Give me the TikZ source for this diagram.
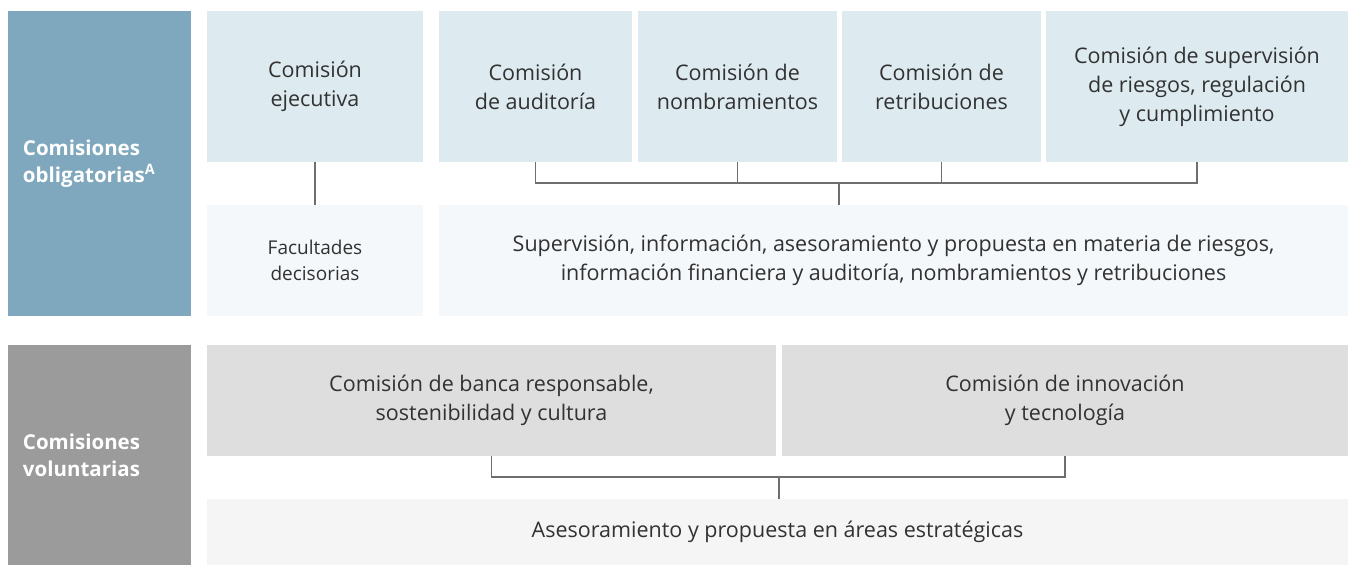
\documentclass[tikz,border=0pt]{standalone}
\usepackage{fontspec}
\setmainfont{Open Sans}
\usetikzlibrary{positioning}
\definecolor{santObligBlue}{RGB}{127, 168, 190}
\definecolor{santLightBlue}{RGB}{221, 235, 241}
\definecolor{santPaleBlue}{RGB}{244, 248, 251}
\definecolor{santVolGrey}{RGB}{155, 155, 155}
\definecolor{santLightGrey}{RGB}{222, 222, 222}
\definecolor{santPaleGrey}{RGB}{245, 245, 245}
\definecolor{santText}{RGB}{50, 50, 50}
\definecolor{santLine}{RGB}{110, 110, 110}

\begin{document}
\begin{tikzpicture}[
  x=1pt, y=-1pt,
  every node/.style={inner sep=0pt, outer sep=0pt},
  panel/.style={
    anchor=north west,
    minimum width=183pt,
    inner xsep=15pt,
    text width=153pt,
    align=left,
    text=white,
    font=\fontsize{20.5}{27}\selectfont\bfseries
  },
  box/.style={
    minimum height=151pt,
    align=center,
    text=santText,
    font=\fontsize{21.5}{29}\selectfont
  },
  infobox/.style={
    anchor=north west,
    align=center,
    text=santText,
    font=\fontsize{21.5}{29}\selectfont
  },
  link/.style={draw=santLine, line width=1.2pt}
]
  \useasboundingbox (0,0) rectangle (1348,565);

  % mandatory committees
  \node[panel, fill=santObligBlue, minimum height=305pt] (oblig) at (8,11)
    {Comisiones\\obligatorias\textsuperscript{A}};
  \node[box, fill=santLightBlue, minimum width=216pt, anchor=north west] (ejec) at (207,11)
    {Comisión\\ejecutiva};
  \node[box, fill=santLightBlue, minimum width=193pt, right=16pt of ejec] (aud)
    {Comisión\\de auditoría};
  \node[box, fill=santLightBlue, minimum width=199pt, right=6pt of aud] (nom)
    {Comisión de\\nombramientos};
  \node[box, fill=santLightBlue, minimum width=199pt, right=5pt of nom] (ret)
    {Comisión de\\retribuciones};
  \node[box, fill=santLightBlue, minimum width=302pt, right=5pt of ret] (sup)
    {Comisión de supervisión\\de riesgos, regulación\\y cumplimiento};
  \node[infobox, fill=santPaleBlue, minimum width=216pt, minimum height=111pt,
        font=\fontsize{19}{26}\selectfont] (fac) at (207,205)
    {Facultades\\decisorias};
  \node[infobox, fill=santPaleBlue, minimum width=909pt, minimum height=111pt] (superv) at (439,205)
    {Supervisión, información, asesoramiento y propuesta en materia de riesgos,\\
     información financiera y auditoría, nombramientos y retribuciones};

  \coordinate (obar) at (839,183);
  \draw[link] (ejec) -- (fac);
  \draw[link] (aud.south) |- (sup.south |- obar) -- (sup.south);
  \draw[link] (nom.south) -- (nom.south |- obar);
  \draw[link] (ret.south) -- (ret.south |- obar);
  \draw[link] (obar) -- (obar |- superv.north);

  % voluntary committees
  \node[panel, fill=santVolGrey, minimum height=220pt] (vol) at (8,345)
    {Comisiones\\voluntarias};
  \node[infobox, fill=santLightGrey, minimum width=569pt, minimum height=111pt] (banca) at (207,345)
    {Comisión de banca responsable,\\sostenibilidad y cultura};
  \node[infobox, fill=santLightGrey, minimum width=566pt, minimum height=111pt] (innov) at (782,345)
    {Comisión de innovación\\y tecnología};
  \node[infobox, fill=santPaleGrey, minimum width=1141pt, minimum height=66pt] (areas) at (207,499)
    {Asesoramiento y propuesta en áreas estratégicas};

  \coordinate (vbar) at (779,477);
  \draw[link] (banca.south) |- (innov.south |- vbar) -- (innov.south);
  \draw[link] (vbar) -- (vbar |- areas.north);
\end{tikzpicture}
\end{document}
